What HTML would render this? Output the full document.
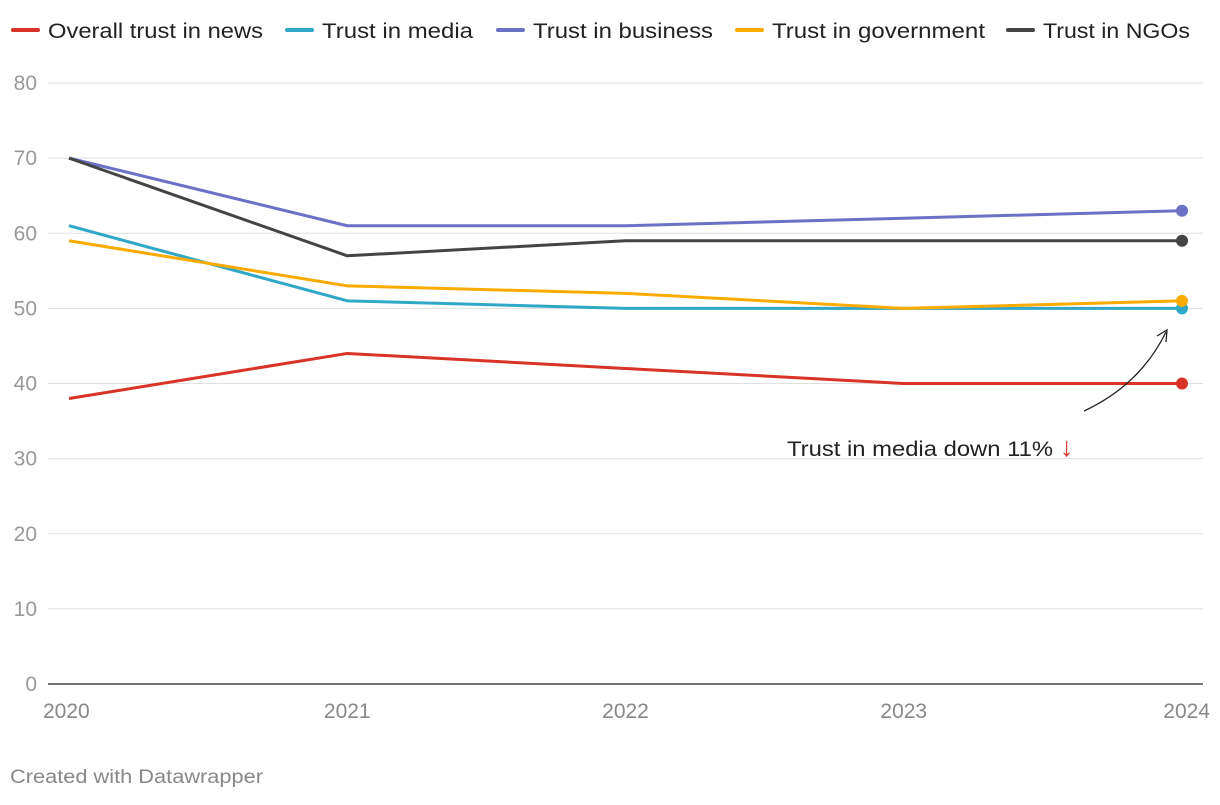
<!DOCTYPE html>
<html><head><meta charset="utf-8"><style>
body{margin:0;background:#fff;font-family:"Liberation Sans",sans-serif;}
svg text{font-family:"Liberation Sans",sans-serif;}
</style></head><body>
<svg id="chart" width="1220" height="800">
<g id="legend"></g>
<g id="grid"></g>
<g id="series"></g>
<text x="787" y="456" font-size="21" fill="#222" textLength="266" lengthAdjust="spacingAndGlyphs">Trust in media down 11%</text>
<text x="1060" y="456" font-size="27" fill="#d93226">↓</text>
<path d="M1084,411 Q1140,385 1166,332" fill="none" stroke="#222" stroke-width="1.3"/>
<path d="M1157,336 L1167,330 L1166,342" fill="none" stroke="#222" stroke-width="1.3"/>
<text x="10" y="783" font-size="19" fill="#888" textLength="253" lengthAdjust="spacingAndGlyphs">Created with Datawrapper</text>
</svg>
<script>
const years=["2020","2021","2022","2023","2024"];
const news=[38,44,42,40,40];
const media=[61,51,50,50,50];
const business=[70,61,61,62,63];
const government=[59,53,52,50,51];
const ngos=[70,57,59,59,59];
const yTicks=[0,10,20,30,40,50,60,70,80];
const seriesNames=["Overall trust in news","Trust in media","Trust in business","Trust in government","Trust in NGOs"];
const colors=["#d93226","#2fa8c8","#6b71c4","#fbab00","#444444"];
const allSeries=[news,media,business,government,ngos];
const NS="http://www.w3.org/2000/svg";
const x=i=>69+i*(1182-69)/(years.length-1);
const y=v=>684-v*(684-83)/80;
function mk(t,a,p){const e=document.createElementNS(NS,t);for(const k in a)e.setAttribute(k,a[k]);p.appendChild(e);return e;}
const grid=document.getElementById('grid');
yTicks.forEach(t=>{
 const l=mk('line',{x1:48,x2:1203,y1:y(t),y2:y(t),stroke:t===0?'#222':'#e0e0e0','stroke-width':t===0?1.3:1},grid);
 
 
 const tx=mk('text',{x:37,y:y(t)+7,'text-anchor':'end','font-size':21,fill:'#999'},grid);
 tx.textContent=t;
 
 
});
years.forEach((yr,i)=>{
 const anchor=i===0?'start':(i===years.length-1?'end':'middle');
 const xx=i===0?43:(i===years.length-1?1210:x(i));
 const tx=mk('text',{x:xx,y:718,'text-anchor':anchor,'font-size':21,fill:'#888'},grid);
 tx.textContent=yr;
 
 
});
const sg=document.getElementById('series');
allSeries.forEach((s,k)=>{
 const d=s.map((v,i)=>(i?'L':'M')+x(i)+','+y(v)).join(' ');
 const p=mk('path',{d:d,fill:'none',stroke:colors[k],'stroke-width':3,'stroke-linejoin':'round'},sg);
 
 
 const c=mk('circle',{cx:x(s.length-1),cy:y(s[s.length-1]),r:6,fill:colors[k]},sg);
 
 
});
const lg=document.getElementById('legend');
const lx=[48,322,533,772,1043];
const lw=[215,151,180,213,147];
seriesNames.forEach((n,k)=>{
 const l=mk('line',{x1:lx[k]-35,x2:lx[k]-10,y1:30,y2:30,stroke:colors[k],'stroke-width':4,'stroke-linecap':'round'},lg);
 
 
 const t=mk('text',{x:lx[k],y:38,'font-size':21,fill:'#222',textLength:lw[k],lengthAdjust:'spacingAndGlyphs'},lg);
 t.textContent=n;
 
 
});
</script>
</body></html>
